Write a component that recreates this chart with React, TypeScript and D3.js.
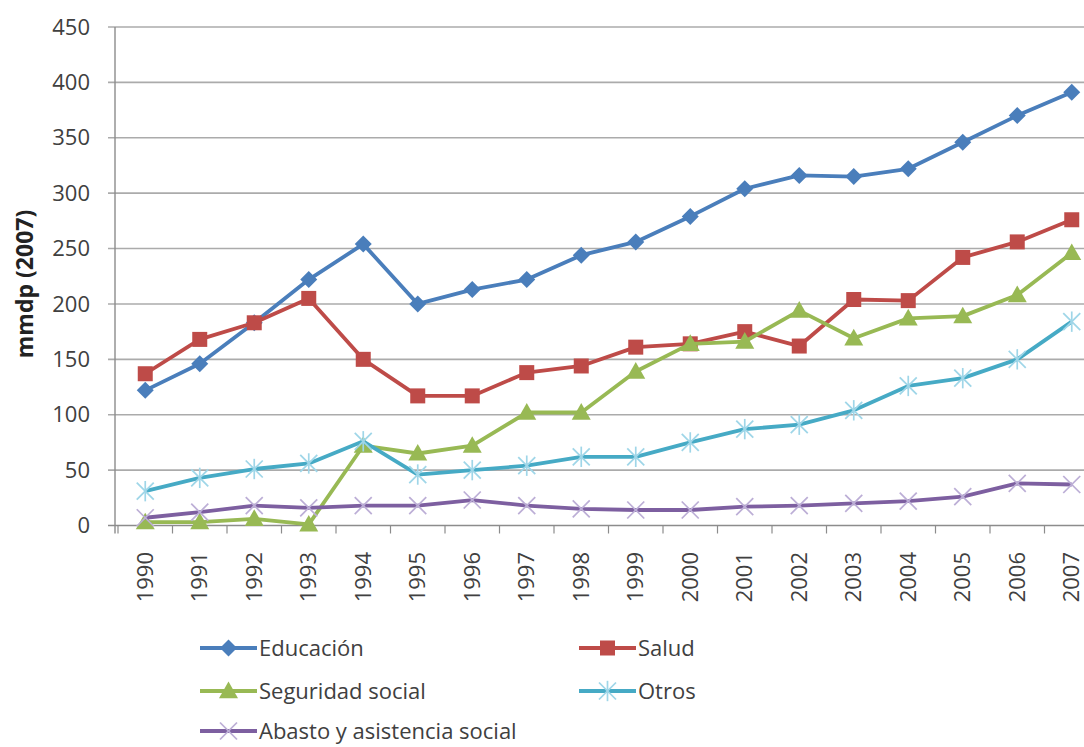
import React from "react";
import * as d3 from "d3";

const years = ["1990","1991","1992","1993","1994","1995","1996","1997","1998","1999","2000","2001","2002","2003","2004","2005","2006","2007"];
const educacion = [122, 146, 183, 222, 254, 200, 213, 222, 244, 256, 279, 304, 316, 315, 322, 346, 370, 391];
const salud = [137, 168, 183, 205, 150, 117, 117, 138, 144, 161, 164, 175, 162, 204, 203, 242, 256, 276];
const seguridad = [3, 3, 6, 1, 72, 65, 72, 102, 102, 139, 164, 166, 194, 169, 187, 189, 208, 246];
const otros = [31, 43, 51, 56, 76, 46, 50, 54, 62, 62, 75, 87, 91, 104, 126, 133, 150, 184];
const abasto = [7, 12, 18, 16, 18, 18, 23, 18, 15, 14, 14, 17, 18, 20, 22, 26, 38, 37];
const yTicks = [0, 50, 100, 150, 200, 250, 300, 350, 400, 450];

type Series = { name: string; values: number[]; color: string; marker: string; markerColor: string };
const series: Series[] = [
  { name: "Educación", values: educacion, color: "#4a7ebb", marker: "diamond", markerColor: "#4a7ebb" },
  { name: "Salud", values: salud, color: "#be4b48", marker: "square", markerColor: "#be4b48" },
  { name: "Seguridad social", values: seguridad, color: "#98b954", marker: "triangle", markerColor: "#98b954" },
  { name: "Otros", values: otros, color: "#46aac5", marker: "asterisk", markerColor: "#9fd6e8" },
  { name: "Abasto y asistencia social", values: abasto, color: "#7d5fa0", marker: "x", markerColor: "#bcaed6" },
];

const legendPos = [
  { x: 200, y: 648 },
  { x: 579, y: 648 },
  { x: 200, y: 691 },
  { x: 579, y: 691 },
  { x: 200, y: 731 },
];

const FONT = "'Open Sans', sans-serif";
const TEXT = "#404040";

function Marker({ type, x, y, color }: { type: string; x: number; y: number; color: string }) {
  if (type === "diamond") {
    const r = 8.5;
    return <path d={`M${x},${y - r}L${x + r},${y}L${x},${y + r}L${x - r},${y}Z`} fill={color} />;
  }
  if (type === "square") {
    const s = 15;
    return <rect x={x - s / 2} y={y - s / 2} width={s} height={s} fill={color} />;
  }
  if (type === "triangle") {
    const r = 9.5;
    return <path d={`M${x},${y - r}L${x + r},${y + r * 0.75}L${x - r},${y + r * 0.75}Z`} fill={color} />;
  }
  if (type === "asterisk") {
    const r = 8.5;
    return (
      <g stroke={color} strokeWidth={1.7}>
        <line x1={x - r} y1={y - r} x2={x + r} y2={y + r} />
        <line x1={x - r} y1={y + r} x2={x + r} y2={y - r} />
        <line x1={x} y1={y - r * 1.2} x2={x} y2={y + r * 1.2} />
      </g>
    );
  }
  const r = 8.5;
  return (
    <g stroke={color} strokeWidth={1.7}>
      <line x1={x - r} y1={y - r} x2={x + r} y2={y + r} />
      <line x1={x - r} y1={y + r} x2={x + r} y2={y - r} />
    </g>
  );
}

export default function App() {
  const x = d3.scaleBand<string>().domain(years).range([118, 1099]).paddingInner(0).paddingOuter(0);
  const y = d3.scaleLinear().domain([0, 450]).range([525.5, 27]);
  const cx = (yr: string) => (x(yr) as number) + x.bandwidth() / 2;
  const line = d3
    .line<number>()
    .x((_, i) => cx(years[i]))
    .y((v) => y(v));

  const left = 115;
  const bottom = y(0);

  return (
    <svg width={1084} height={747} style={{ position: "absolute", left: 0, top: 0, background: "#fff" }}>
      <rect x={0} y={0} width={1084} height={747} fill="#fff" />
      {yTicks.map((t) => (
        <g key={t}>
          <line x1={108} x2={1100} y1={y(t)} y2={y(t)} stroke={t === 0 ? "#8c8c8c" : "#ababab"} strokeWidth={1.6} />
          <text x={90} y={y(t)} dy="0.35em" textAnchor="end" fontFamily={FONT} fontSize={22} fill={TEXT}>
            {t}
          </text>
        </g>
      ))}
      <line x1={left} x2={left} y1={y(450)} y2={bottom + 8} stroke="#8c8c8c" strokeWidth={1.4} />
      {years.map((yr) => (
        <line key={"t" + yr} x1={x(yr) as number} x2={x(yr) as number} y1={bottom} y2={bottom + 8} stroke="#8c8c8c" strokeWidth={1.2} />
      ))}
      {years.map((yr) => (
        <text
          key={"l" + yr}
          transform={`translate(${cx(yr)},${552}) rotate(-90)`}
          dy="0.35em"
          textAnchor="end"
          fontFamily={FONT}
          fontSize={22}
          fill={TEXT}
        >
          {yr}
        </text>
      ))}
      <text
        transform={`translate(25,${284}) rotate(-90)`}
        dy="0.35em"
        textAnchor="middle"
        fontFamily={FONT}
        fontSize={23}
        fontWeight="bold"
        fill="#222"
      >
        mmdp (2007)
      </text>
      {series.map((s) => (
        <g key={s.name}>
          <path d={line(s.values) as string} fill="none" stroke={s.color} strokeWidth={3.8} strokeLinejoin="round" />
          {s.values.map((v, i) => (
            <Marker key={i} type={s.marker} x={cx(years[i])} y={y(v)} color={s.markerColor} />
          ))}
        </g>
      ))}
      {series.map((s, i) => {
        const p = legendPos[i];
        return (
          <g key={"lg" + s.name}>
            <line x1={p.x} x2={p.x + 57} y1={p.y} y2={p.y} stroke={s.color} strokeWidth={3.8} />
            <Marker type={s.marker} x={p.x + 28.5} y={p.y} color={s.markerColor} />
            <text x={p.x + 59} y={p.y} dy="0.35em" fontFamily={FONT} fontSize={22} fill={TEXT}>
              {s.name}
            </text>
          </g>
        );
      })}
    </svg>
  );
}
